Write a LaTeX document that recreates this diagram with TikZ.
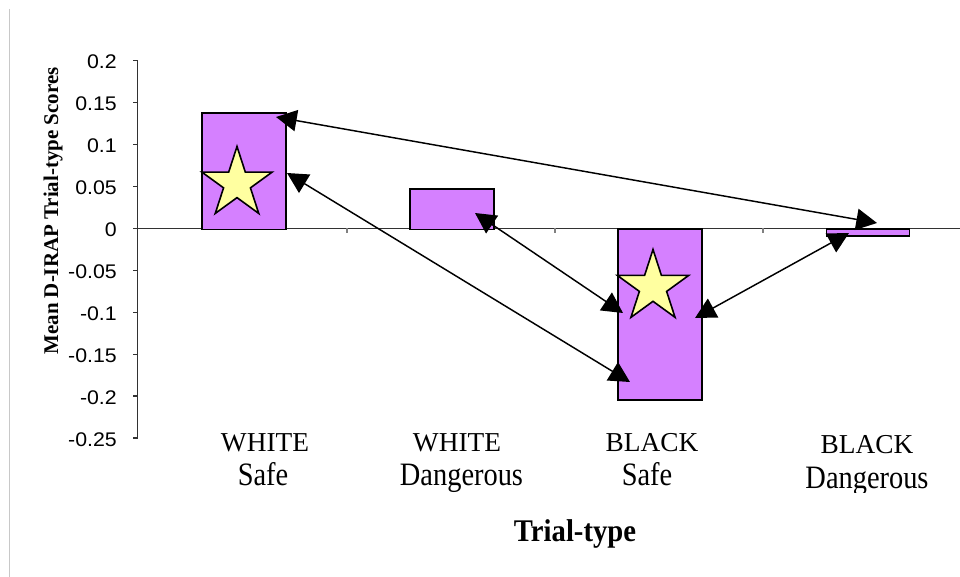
\documentclass[tikz,border=0pt]{standalone}
\usepackage{graphicx}
\usepackage{fontspec}
\setmainfont{Liberation Serif}
\newfontfamily\tickfont[FakeStretch=1.08]{Liberation Sans}
\usetikzlibrary{arrows.meta}
\definecolor{barfill}{RGB}{213,128,255}
\definecolor{starfill}{RGB}{255,255,160}
\definecolor{framegray}{RGB}{200,200,200}
\definecolor{axisgray}{RGB}{50,50,50}
\begin{document}
\begin{tikzpicture}[x=0.75pt,y=-0.75pt,
  barbox/.style={draw=black,line width=1.4pt,fill=barfill,inner sep=0pt,anchor=north west},
  starshape/.style={draw=black,line width=1.2pt,fill=starfill,line join=miter},
  ticklab/.style={anchor=east,inner sep=0pt,font=\tickfont\fontsize{14.8}{17}\selectfont},
  catA/.style={anchor=base,inner sep=0pt,font=\fontsize{20.5}{24}\selectfont},
  catB/.style={anchor=base,inner sep=0pt,font=\fontsize{21.3}{24}\selectfont},
  axisline/.style={draw=axisgray,line width=1pt},
  dbl/.style={{Triangle[length=15.5pt,width=16pt]}-{Triangle[length=15.5pt,width=16pt]},line width=1.1pt,black}]
\useasboundingbox (0,0) rectangle (960,577);
% frame line at left
\draw[framegray,line width=1.1pt] (9.5,9) -- (9.5,577);
% y axis and ticks
\draw[axisline] (137.5,60.7) -- (137.5,438.1);
\foreach \v [count=\i from 0] in {0.2,0.15,0.1,0.05,0,-0.05,-0.1,-0.15,-0.2,-0.25} {
  \draw[axisline] (133,{60.7+41.93*\i}) -- (137.5,{60.7+41.93*\i});
  \node[ticklab] (t\i) at (117,{62.2+41.93*\i}) {\v};
}
% zero line
\draw[axisline] (137.5,228.5) -- (960,228.5);
\foreach \xx in {347,555,763} \draw[draw=gray,line width=0.8pt] (\xx,228.5) -- (\xx,233);
% bars
\node[barbox,minimum width=63pt,minimum height=87.4pt] (bar1) at (201,112) {};
\node[barbox,minimum width=63pt,minimum height=30.4pt] (bar2) at (409,188) {};
\node[barbox,minimum width=63pt,minimum height=127.9pt] (bar3) at (617,228.5) {};
\node[barbox,minimum width=62.3pt,minimum height=5pt] (bar4) at (825.5,228.5) {};
% stars
\draw[starshape,shift={(237,183.5)}] plot[samples at={0,...,9}] ({\x*36-90}:{ifthenelse(mod(\x,2)==0,37,14.13)}) -- cycle;
\draw[starshape,shift={(653,287)}] plot[samples at={0,...,9}] ({\x*36-90}:{ifthenelse(mod(\x,2)==0,37.5,14.32)}) -- cycle;
% arrow end points
\coordinate (a1) at (276,117);
\coordinate (a2) at (877,223);
\coordinate (b1) at (287,173);
\coordinate (b2) at (630,382);
\coordinate (c1) at (475,213);
\coordinate (c2) at (623,313);
\coordinate (d1) at (695,318);
\coordinate (d2) at (849,233);
\draw[dbl] (a1) -- (a2);
\draw[dbl] (b1) -- (b2);
\draw[dbl] (c1) -- (c2);
\draw[dbl] (d1) -- (d2);
% axis title
\node[rotate=90,anchor=base,inner sep=0pt] (ylab) at (58,211) {\fontsize{15.7}{18}\selectfont\bfseries Mean D-IRAP Trial-type Scores};
% category labels
\begin{scope}
\clip (150,420) rectangle (960,492);
\node[catA] (c1a) at (265,451) {WHITE};
\node[catB] (c1b) at (263,485) {\scalebox{1}[1.15]{Safe}};
\node[catA] (c2a) at (457,451) {WHITE};
\node[catB] (c2b) at (461.5,485) {\scalebox{1}[1.15]{Dangerous}};
\node[catA] (c3a) at (652,451) {BLACK};
\node[catB] (c3b) at (647,485) {\scalebox{1}[1.15]{Safe}};
\node[catA] (c4a) at (867,453) {BLACK};
\node[catB] (c4b) at (867,488) {\scalebox{1}[1.15]{Dangerous}};
\end{scope}
\node[anchor=base,inner sep=0pt] (xlab) at (575,541) {\fontsize{21.5}{24}\selectfont\bfseries\scalebox{1}[1.1]{Trial-type}};
\end{tikzpicture}
\end{document}
